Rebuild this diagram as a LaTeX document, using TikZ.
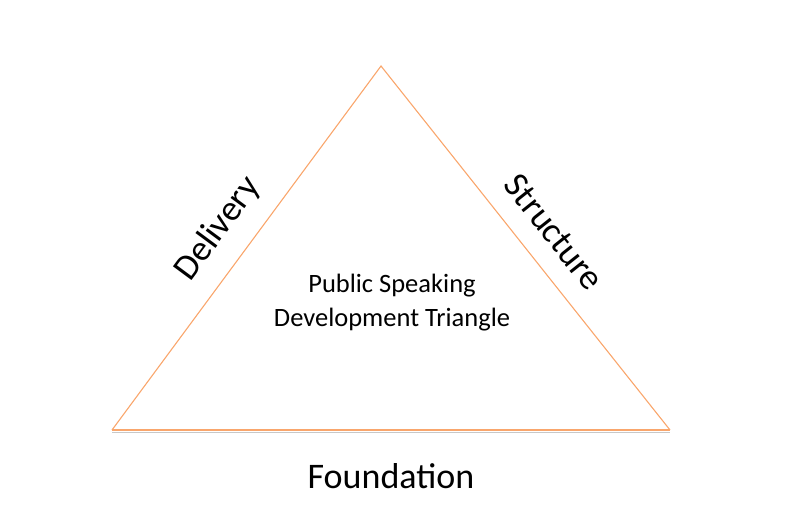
\documentclass[tikz,border=0pt]{standalone}
\usepackage{fontspec}
\setmainfont{Carlito}
\usetikzlibrary{positioning}
\definecolor{Apricot}{HTML}{F9A66C}
\definecolor{Shade}{HTML}{C8C8C8}

\begin{document}
\begin{tikzpicture}[
    x=1pt, y=-1pt,
    side/.style={draw=Apricot, line width=1.1pt, line join=miter},
    base/.style={draw=Apricot, line width=1.8pt},
    shade/.style={draw=Shade, line width=1.6pt},
    lbl/.style={font=\fontsize{36}{43}\selectfont, text=black, inner sep=0pt},
    title/.style={font=\fontsize{26.5}{34}\selectfont, align=center, text=black, inner sep=0pt}
]
\useasboundingbox (0,0) rectangle (789,524);

% === Triangle corners ===
\coordinate (apex) at (381,66);
\coordinate (baseL) at (112,430);
\coordinate (baseR) at (670,430);

% === Sides ===
\draw[shade] ([yshift=-2.5pt]baseL) -- ([yshift=-2.5pt]baseR);
\draw[side] (baseL) -- (apex) -- (baseR);
\draw[base] (baseL) -- (baseR);

% === Side labels ===
\node[lbl, rotate=53.5] (delivery) at (218,229) {Delivery};
\node[lbl, rotate=-51.5] (structure) at (554,232) {Structure};
\node[lbl] (foundation) at (391,476) {Foundation};

% === Centre title ===
\node[title] (name) at (392,303) {Public Speaking\\Development Triangle};

\end{tikzpicture}
\end{document}
